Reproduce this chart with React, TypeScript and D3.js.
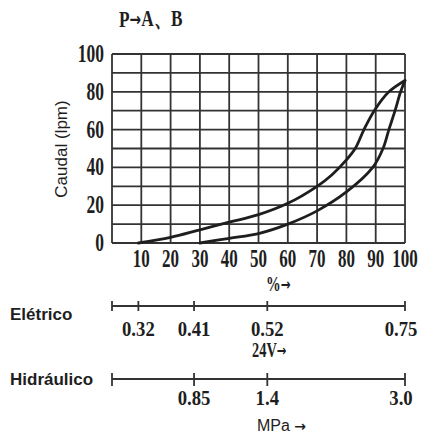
import * as d3 from 'd3';
import React from 'react';

// chart values
const xTicks = [10, 20, 30, 40, 50, 60, 70, 80, 90, 100];
const yTicks = [0, 20, 40, 60, 80, 100];
const yGrid = [0, 10, 20, 30, 40, 50, 60, 70, 80, 90, 100];

// opening curve (upper) and closing curve (lower): [% , lpm]
const upperCurve: [number, number][] = [
  [9, 0], [20, 3], [30, 7], [40, 11], [50, 15], [60, 21], [70, 30], [75, 36],
  [80, 44], [83, 50], [86, 60], [89.5, 70], [94.5, 80], [100, 86],
];
const lowerCurve: [number, number][] = [
  [30, 0], [40, 2.5], [50, 5], [60, 10], [70, 17], [80, 27], [89, 40],
  [92.5, 50], [94.5, 60], [96.6, 70], [98.5, 80], [100, 86],
];

// signal scales under the chart, placed on the % axis
const eletricoTicks = [0, 9, 28, 53, 100];
const eletricoLabels = ['', '0.32', '0.41', '0.52', '0.75'];
const hidraulicoTicks = [0, 28, 53, 100];
const hidraulicoLabels = ['', '0.85', '1.4', '3.0'];

const width = 425;
const height = 438;
const margin = { top: 54, right: 20, bottom: 195, left: 112 };

const serif = '"Liberation Serif", "DejaVu Serif", serif';
const sans = '"Liberation Sans", Arial, sans-serif';
const ink = '#1e1e1e';

const Arrow = () => (
  <tspan fontFamily='"DejaVu Sans", sans-serif' fontSize="0.8em" dy="-1">→</tspan>
);

const Cond = ({ x, y, size, sx = 0.7, anchor = 'middle', children }: any) => (
  <text
    transform={`translate(${x},${y}) scale(${sx},1)`}
    textAnchor={anchor}
    fontFamily={serif}
    fontWeight="bold"
    fontSize={size}
    fill={ink}
  >
    {children}
  </text>
);

const App = () => {
  const xScale = d3.scaleLinear().domain([0, 100]).range([margin.left, width - margin.right]);
  const yScale = d3.scaleLinear().domain([0, 100]).range([height - margin.bottom, margin.top]);

  const line = d3
    .line<[number, number]>()
    .x(d => xScale(d[0]))
    .y(d => yScale(d[1]))
    .curve(d3.curveCatmullRom.alpha(0.5));

  const x0 = xScale(0);
  const x1 = xScale(100);
  const eY = 306;
  const hY = 379;

  return (
    <svg width={width} height={height} style={{ position: 'absolute', left: 0, top: 0, background: '#fff' }}>
      {/* title */}
      <Cond x={119} y={27} size={24} sx={0.72} anchor="start">P<Arrow />A、B</Cond>

      {/* grid */}
      <g stroke="#333" strokeWidth={1.8}>
        {yGrid.map(v => (
          <line key={'h' + v} x1={x0} x2={x1} y1={yScale(v)} y2={yScale(v)} />
        ))}
        {[0, ...xTicks].map(v => (
          <line key={'v' + v} x1={xScale(v)} x2={xScale(v)} y1={yScale(0)} y2={yScale(100)} />
        ))}
      </g>

      {/* curves */}
      <path d={line(upperCurve) || ''} fill="none" stroke={ink} strokeWidth={2.8} strokeLinecap="round" />
      <path d={line(lowerCurve) || ''} fill="none" stroke={ink} strokeWidth={2.8} strokeLinecap="round" />

      {/* y tick labels */}
      {yTicks.map(v => (
        <Cond key={'yl' + v} x={104} y={yScale(v) + 8} size={25} sx={0.7} anchor="end">{v}</Cond>
      ))}
      {/* x tick labels */}
      {xTicks.map(v => (
        <Cond key={'xl' + v} x={xScale(v)} y={267} size={25} sx={0.68}>{v}</Cond>
      ))}
      <Cond x={266} y={291} size={21} sx={0.7} anchor="start">%<Arrow /></Cond>

      {/* y axis title */}
      <text
        transform={`translate(67,149) rotate(-90)`}
        textAnchor="middle"
        fontFamily={sans}
        fontSize={17}
        fill={ink}
      >
        Caudal (lpm)
      </text>

      {/* Elétrico scale */}
      <text x={10} y={320} fontFamily={sans} fontWeight="bold" fontSize={17} fill={ink}>Elétrico</text>
      <line x1={x0} x2={x1} y1={eY} y2={eY} stroke="#333" strokeWidth={1.8} />
      {eletricoTicks.map((t, i) => (
        <g key={'et' + i}>
          <line x1={xScale(t)} x2={xScale(t)} y1={eY - 5} y2={eY + 5} stroke="#333" strokeWidth={1.8} />
          {eletricoLabels[i] && (
            <Cond x={Math.min(xScale(t), 401)} y={336} size={22} sx={0.85}>{eletricoLabels[i]}</Cond>
          )}
        </g>
      ))}
      <Cond x={252} y={357} size={20} sx={0.72} anchor="start">24V<Arrow /></Cond>

      {/* Hidráulico scale */}
      <text x={10} y={385} fontFamily={sans} fontWeight="bold" fontSize={17} fill={ink}>Hidráulico</text>
      <line x1={x0} x2={x1} y1={hY} y2={hY} stroke="#333" strokeWidth={1.8} />
      {hidraulicoTicks.map((t, i) => (
        <g key={'ht' + i}>
          <line x1={xScale(t)} x2={xScale(t)} y1={hY - 6} y2={hY + 7} stroke="#333" strokeWidth={1.8} />
          {hidraulicoLabels[i] && (
            <Cond x={Math.min(xScale(t), 401)} y={405} size={22} sx={0.85}>{hidraulicoLabels[i]}</Cond>
          )}
        </g>
      ))}
      <text x={257} y={431} fontFamily={sans} fontSize={16} fill={ink}>
        MPa <tspan fontFamily='"DejaVu Sans", sans-serif' fontWeight="bold" fontSize={14}>→</tspan>
      </text>
    </svg>
  );
};

export default App;
